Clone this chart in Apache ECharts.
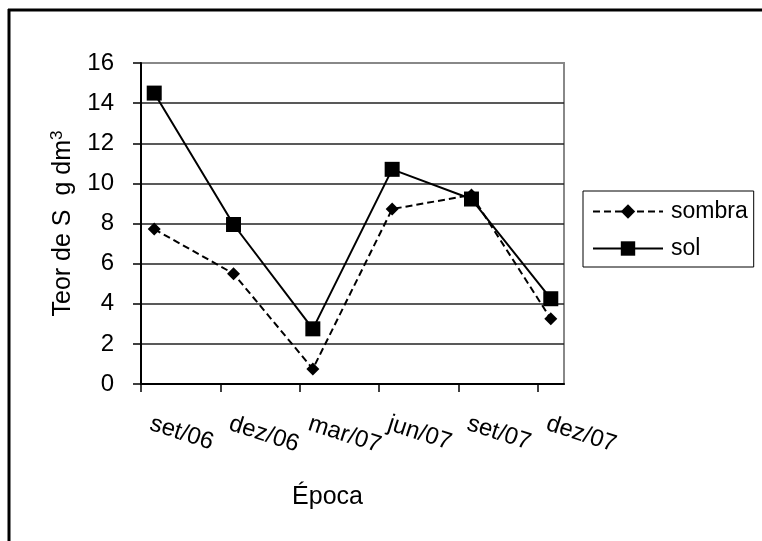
<!DOCTYPE html>
<html>
<head>
<meta charset="utf-8">
<script src="https://cdn.jsdelivr.net/npm/echarts@6/dist/echarts.min.js"></script>
<style>
html,body{margin:0;padding:0;background:#fff;overflow:hidden;}
#chart{width:762px;height:541px;}
</style>
</head>
<body>
<div id="chart"></div>
<script>
// Tick labels of the time axis (quarterly, month index from set/06)
var tickLabels = ['set/06', 'dez/06', 'mar/07', 'jun/07', 'set/07', 'dez/07'];
// Sampling times, months after 1 set/06 (mid-month)
var sampleMonths = [0.5, 3.5, 6.5, 9.5, 12.5, 15.5];
// Teor de S (g dm-3)
var sombra = [7.72, 5.5, 0.75, 8.72, 9.42, 3.25];
var sol = [14.5, 7.95, 2.75, 10.7, 9.22, 4.25];

function pairs(xs, ys) {
  return xs.map(function (x, i) { return [x, ys[i]]; });
}

var FONT = "'Liberation Sans', Arial, sans-serif";
var chart = echarts.init(document.getElementById('chart'), null, {renderer: 'canvas'});
chart.setOption({
  backgroundColor: '#ffffff',
  animation: false,
  textStyle: {fontFamily: FONT},
  graphic: [{
    type: 'line', shape: {x1: 9, y1: 9, x2: 9, y2: 541},
    style: {stroke: '#000', lineWidth: 3}, silent: true
  }, {
    type: 'line', shape: {x1: 8, y1: 10, x2: 762, y2: 10},
    style: {stroke: '#000', lineWidth: 3}, silent: true
  }],
  grid: {left: 141, right: 198, top: 63, bottom: 157, show: true,
         borderColor: '#888', borderWidth: 2, backgroundColor: '#fff'},
  legend: {
    orient: 'vertical',
    left: 583, top: 191,
    padding: [9, 6, 7, 9],
    itemWidth: 70, itemHeight: 18, itemGap: 14,
    borderColor: '#000', borderWidth: 1,
    textStyle: {fontFamily: FONT, fontSize: 23, color: '#000', padding: [0, 0, 0, 3]},
    data: ['sombra', 'sol']
  },
  xAxis: {
    type: 'value', min: 0, max: 16, interval: 3,
    name: 'Época', nameLocation: 'middle', nameGap: 101,
    nameTextStyle: {fontFamily: FONT, fontSize: 25, color: '#000', padding: [0, 50, 0, 0]},
    axisLine: {show: true, lineStyle: {color: '#000', width: 2}},
    axisTick: {show: true, inside: false, length: 8, lineStyle: {color: '#000', width: 1.5}},
    splitLine: {show: false},
    axisLabel: {
      rotate: -18, margin: 36, showMaxLabel: false,
      fontFamily: FONT, fontSize: 24, color: '#000', padding: [0, 0, 0, 10],
      formatter: function (v) { return v % 3 === 0 ? (tickLabels[v / 3] || '') : ''; }
    }
  },
  yAxis: {
    type: 'value', min: 0, max: 16, interval: 2,
    name: '{a|Teor de S  g dm}{s|3}', nameLocation: 'middle', nameGap: 64,
    nameTextStyle: {
      fontFamily: FONT, fontSize: 25, color: '#000',
      rich: {
        a: {fontFamily: FONT, fontSize: 25, color: '#000'},
        s: {fontFamily: FONT, fontSize: 17, color: '#000', padding: [0, 0, 11, 0]}
      }
    },
    axisLine: {show: true, lineStyle: {color: '#000', width: 2}},
    axisTick: {show: true, inside: false, length: 8, lineStyle: {color: '#000', width: 1.5}},
    splitLine: {show: true, lineStyle: {
      color: ['#000', '#222', '#222', '#222', '#222', '#222', '#222', '#222', '#888'], width: 1.5}},
    axisLabel: {margin: 27, fontFamily: FONT, fontSize: 24, color: '#000'}
  },
  series: [{
    name: 'sombra', type: 'line',
    data: pairs(sampleMonths, sombra),
    symbol: 'diamond', symbolSize: 13,
    itemStyle: {color: '#000'},
    lineStyle: {color: '#000', width: 2, type: [7, 4]}
  }, {
    name: 'sol', type: 'line',
    data: pairs(sampleMonths, sol),
    symbol: 'rect', symbolSize: 15,
    itemStyle: {color: '#000'},
    lineStyle: {color: '#000', width: 2}
  }]
});
</script>
</body>
</html>
